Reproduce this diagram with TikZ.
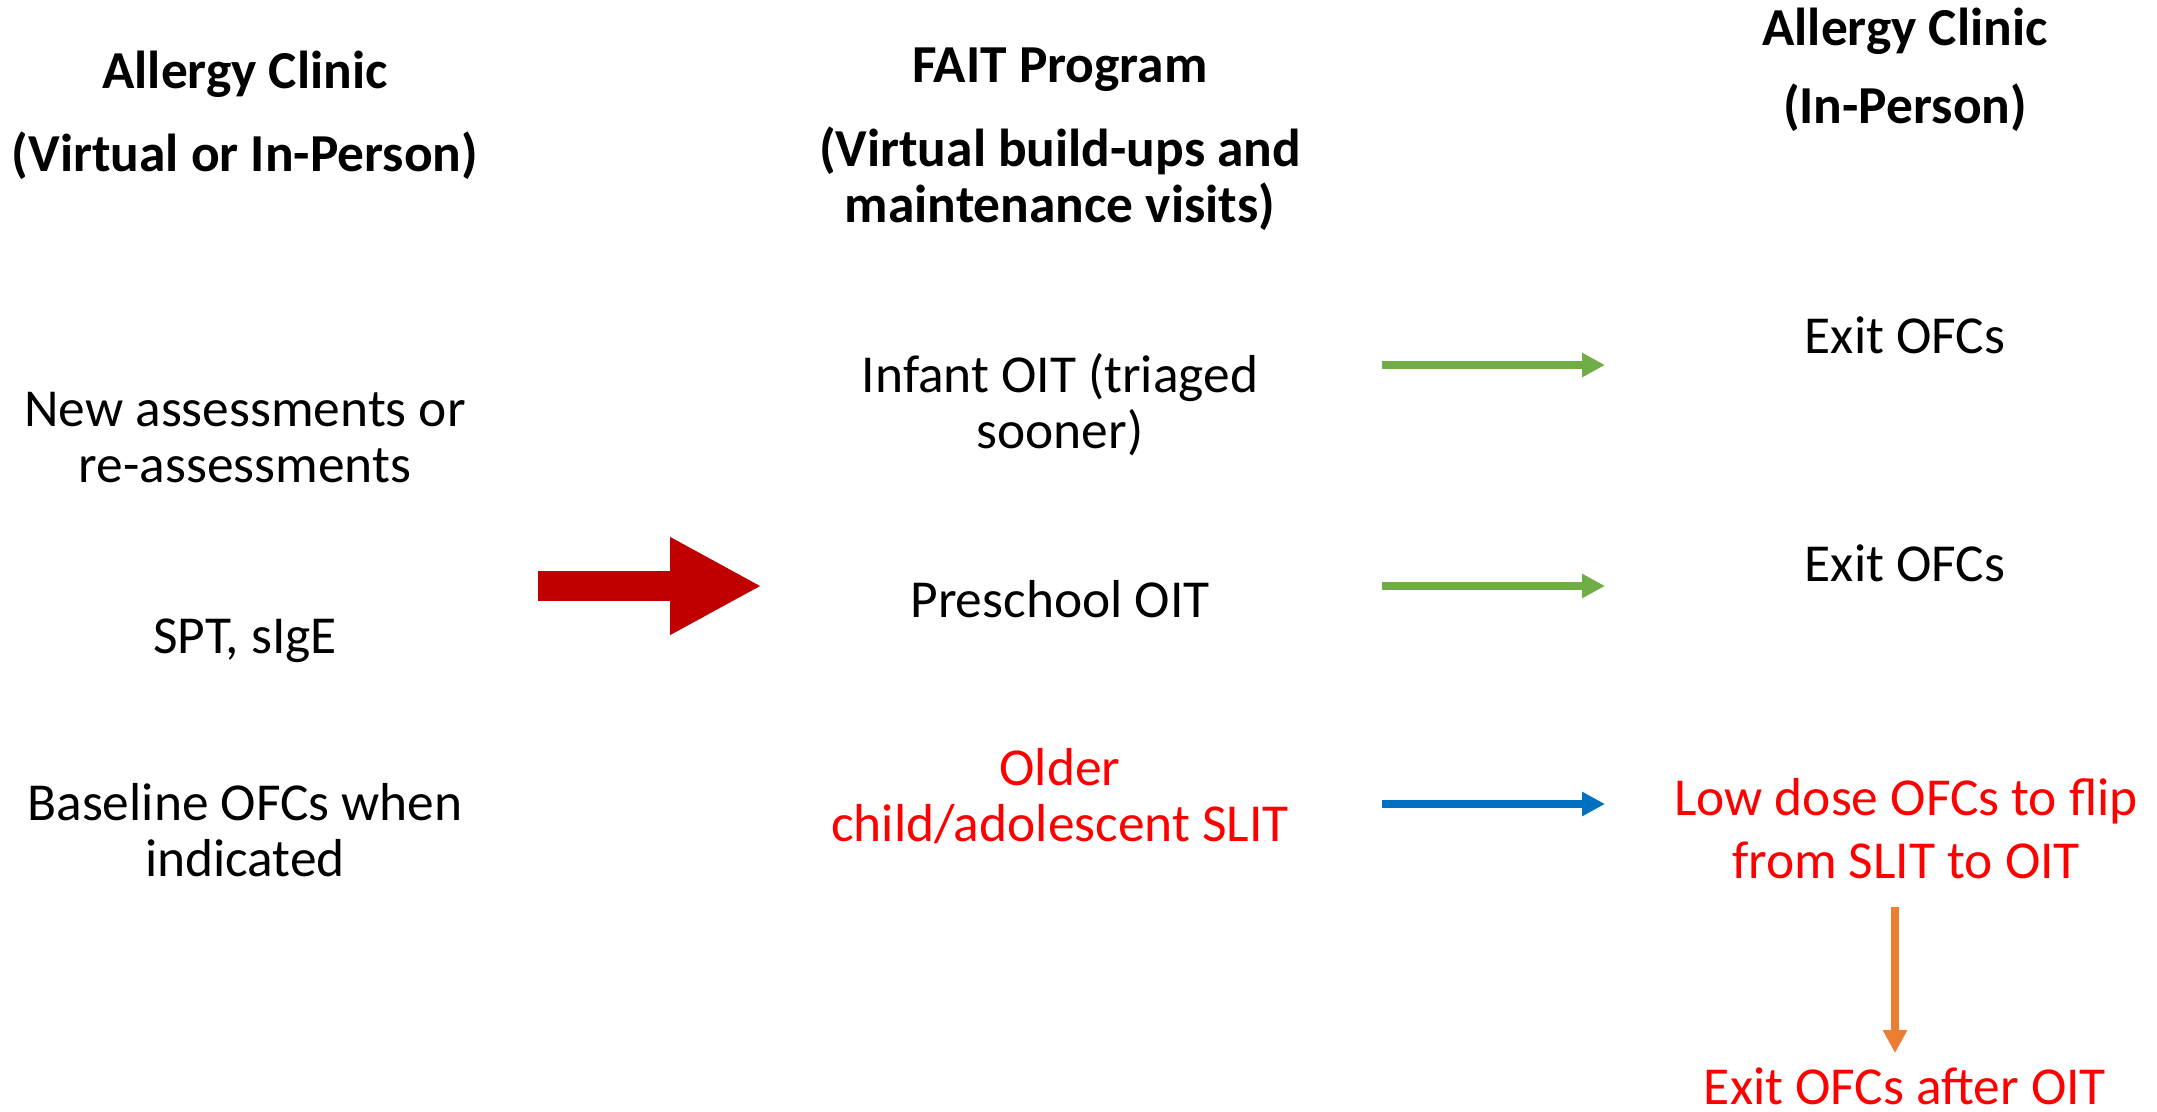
\documentclass[tikz,border=0pt]{standalone}
\usepackage{fontspec}
\setmainfont{Carlito}
\usetikzlibrary{arrows.meta}
\definecolor{darkred}{HTML}{C00000}
\definecolor{pgreen}{HTML}{70AD47}
\definecolor{pblue}{HTML}{0070C0}
\definecolor{porange}{HTML}{ED7D31}
\definecolor{pred}{HTML}{FF0000}
\tikzset{
  txt/.style={anchor=base, align=center, inner sep=0pt, font=\fontsize{15.2pt}{0.56cm}\selectfont},
  hdr/.style={txt, font=\fontsize{15.2pt}{0.56cm}\selectfont\bfseries},
  redtxt/.style={txt, text=pred},
  thinarrow/.style={line width=0.08cm, -{Triangle[length=0.23cm,width=0.23cm]}},
  bigarrow/.style={line width=0.30cm, darkred, -{Triangle[length=0.92cm,width=0.91cm]}}
}
\begin{document}
\begin{tikzpicture}
\useasboundingbox (0,0) rectangle (21.57,-11.11);
% left column (anchor = baseline of last line)
\node[hdr] (lh) at (2.45,-1.71) {Allergy Clinic\\[0.27cm](Virtual or In-Person)};
\node[txt] (lnew) at (2.45,-4.82) {New assessments or\\re-assessments};
\node[txt] (lspt) at (2.45,-6.53) {SPT, sIgE};
\node[txt] (lbase) at (2.45,-8.76) {Baseline OFCs when\\indicated};
% middle column
\node[hdr] (mh) at (10.60,-2.22) {FAIT Program\\[0.28cm](Virtual build-ups and\\maintenance visits)};
\node[txt] (minf) at (10.60,-4.48) {Infant OIT (triaged\\sooner)};
\node[txt] (mpre) at (10.60,-6.17) {Preschool OIT};
\node[redtxt] (mold) at (10.60,-8.41) {Older\\child/adolescent SLIT};
% right column
\node[hdr] (rh) at (19.05,-1.23) {Allergy Clinic\\[0.22cm](In-Person)};
\node[txt] (rex1) at (19.05,-3.53) {Exit OFCs};
\node[txt] (rex2) at (19.05,-5.81) {Exit OFCs};
\node[redtxt, font=\fontsize{15.2pt}{0.63cm}\selectfont] (rlow) at (19.06,-8.78) {Low dose OFCs to flip\\from SLIT to OIT};
\node[redtxt] (rex3) at (19.05,-11.04) {Exit OFCs after OIT};
% arrow end points
\coordinate (rs) at (5.38,-5.86);
\coordinate (re) at (7.62,-5.86);
\coordinate (g1s) at (13.82,-3.65);
\coordinate (g1e) at (16.05,-3.65);
\coordinate (g2s) at (13.82,-5.86);
\coordinate (g2e) at (16.05,-5.86);
\coordinate (bs) at (13.82,-8.04);
\coordinate (be) at (16.05,-8.04);
\coordinate (os) at (18.95,-9.07);
\coordinate (oe) at (18.95,-10.53);
% arrows
\draw[bigarrow] (rs) -- (re);
\draw[thinarrow, pgreen] (g1s) -- (g1e);
\draw[thinarrow, pgreen] (g2s) -- (g2e);
\draw[thinarrow, pblue] (bs) -- (be);
\draw[thinarrow, porange] (os) -- (oe);
\end{tikzpicture}
\end{document}
